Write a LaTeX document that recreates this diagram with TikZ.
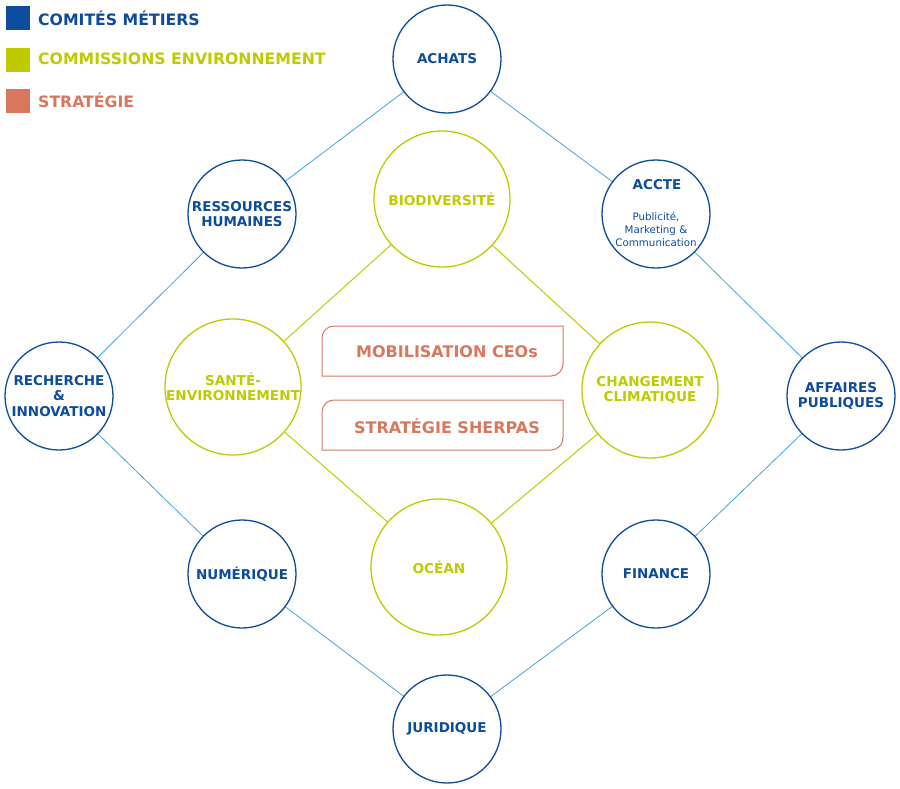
\documentclass[tikz,border=0pt]{standalone}
\usepackage{fontspec}
\setmainfont{DejaVu Sans}
\definecolor{cblue}{HTML}{0D4C9B}
\definecolor{cgreen}{HTML}{BFCB00}
\definecolor{corange}{HTML}{D9775C}
\definecolor{clink}{HTML}{3FA4DB}
\begin{document}
\begin{tikzpicture}[x=1pt,y=-1pt,
  comite/.style={circle,draw=cblue,line width=1.3pt,fill=white,minimum size=108pt,inner sep=-20pt,align=center,text=cblue,font=\bfseries\fontsize{13.5}{15.5}\selectfont},
  commission/.style={circle,draw=cgreen,line width=1.3pt,fill=white,minimum size=136pt,inner sep=-20pt,align=center,text=cgreen,font=\bfseries\fontsize{13.6}{15.5}\selectfont},
  bluelink/.style={draw=clink,line width=0.8pt},
  greenlink/.style={draw=cgreen,line width=1pt},
  legtext/.style={anchor=west,inner sep=0pt,font=\bfseries\fontsize{15.7}{18}\selectfont},
  strat/.style={draw=corange,line width=1pt},
  strattext/.style={text=corange,font=\bfseries\fontsize{16}{18}\selectfont,inner sep=0pt}]
\useasboundingbox (0,0) rectangle (900,789);
% legend
\fill[cblue] (6,6) rectangle (30,30);
\node[legtext,text=cblue] (l1) at (38,18) {COMITÉS MÉTIERS};
\fill[cgreen] (6,48) rectangle (30,72);
\node[legtext,text=cgreen] (l2) at (38,59) {COMMISSIONS ENVIRONNEMENT};
\fill[corange] (6,89) rectangle (30,113);
\node[legtext,text=corange] (l3) at (38,100) {STRATÉGIE};
% blue circles positions
\coordinate (pa) at (447,59);
\coordinate (prh) at (242,214);
\coordinate (pac) at (656,214);
\coordinate (pre) at (59,396);
\coordinate (paf) at (841,396);
\coordinate (pnu) at (242,574);
\coordinate (pfi) at (656,574);
\coordinate (pju) at (447,729);
% green
\coordinate (pbio) at (442,199);
\coordinate (psa) at (233,387);
\coordinate (pcc) at (650,390);
\coordinate (poc) at (439,567);
% links
\draw[bluelink] (pa) -- (prh) -- (pre) -- (pnu) -- (pju) -- (pfi) -- (paf) -- (pac) -- cycle;
\draw[greenlink] (pbio) -- (psa) -- (poc) -- (pcc) -- cycle;
% blue nodes
\node[comite] (achats) at (pa) {ACHATS};
\node[comite] (rh) at (prh) {RESSOURCES\\HUMAINES};
\node[comite] (accte) at (pac) {};
\node[text=cblue,font=\bfseries\fontsize{13.5}{15.5}\selectfont,inner sep=0pt] (accteT) at (657,185) {ACCTE};
\node[text=cblue,font=\fontsize{10.3}{13}\selectfont,align=center,inner sep=0pt] (accteS) at (656,229) {Publicité,\\Marketing \&\\Communication};
\node[comite] (rech) at (pre) {RECHERCHE\\\&\\INNOVATION};
\node[comite] (aff) at (paf) {AFFAIRES\\PUBLIQUES};
\node[comite] (num) at (pnu) {NUMÉRIQUE};
\node[comite] (fin) at (pfi) {FINANCE};
\node[comite] (jur) at (pju) {JURIDIQUE};
% green nodes
\node[commission] (bio) at (pbio) {BIODIVERSITÉ};
\node[commission] (sante) at (psa) {SANTÉ-\\ENVIRONNEMENT};
\node[commission] (cc) at (pcc) {CHANGEMENT\\CLIMATIQUE};
\node[commission] (ocean) at (poc) {OCÉAN};
% strategy boxes
\draw[strat] (322,376) -- (322,338) arc[start angle=180,end angle=270,radius=12] -- (563,326) -- (563,364) arc[start angle=0,end angle=90,radius=12] -- cycle;
\node[strattext] (mob) at (447,352) {MOBILISATION CEOs};
\draw[strat] (322,450) -- (322,412) arc[start angle=180,end angle=270,radius=12] -- (563,400) -- (563,438) arc[start angle=0,end angle=90,radius=12] -- cycle;
\node[strattext] (sher) at (447,426) {STRATÉGIE SHERPAS};
\end{tikzpicture}
\end{document}
